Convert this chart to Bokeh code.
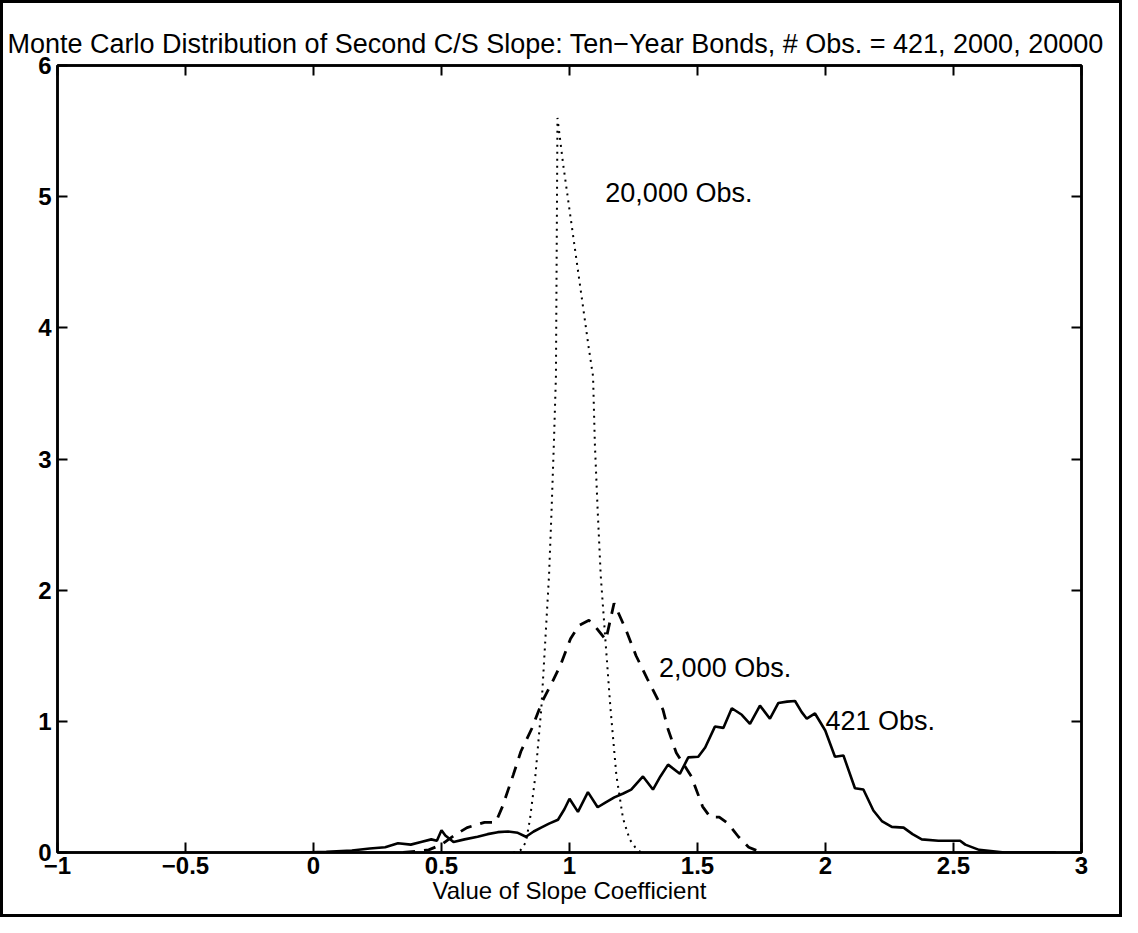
from bokeh.plotting import figure
from bokeh.models import Range1d, LinearAxis, FixedTicker, Label
from bokeh.embed import file_html
from bokeh.resources import INLINE

# ---- data ----
solid_x = [-0.05, 0.05, 0.15, 0.22, 0.28, 0.33, 0.38, 0.42, 0.46, 0.482, 0.50, 0.515, 0.547, 0.59,
           0.641, 0.68, 0.72, 0.76, 0.798, 0.830, 0.86, 0.889, 0.92, 0.955, 0.98, 1.0, 1.033, 1.072,
           1.11, 1.14, 1.175, 1.21, 1.241, 1.287, 1.326, 1.355, 1.385, 1.431, 1.464, 1.503, 1.53,
           1.568, 1.601, 1.634, 1.673, 1.705, 1.744, 1.783, 1.816, 1.85, 1.881, 1.907, 1.927, 1.959,
           1.999, 2.037, 2.07, 2.115, 2.148, 2.187, 2.22, 2.259, 2.305, 2.34, 2.376, 2.441, 2.526,
           2.546, 2.6, 2.7, 2.9]
solid_y = [0, 0.005, 0.015, 0.03, 0.04, 0.07, 0.06, 0.08, 0.1, 0.09, 0.17, 0.13, 0.08, 0.1,
           0.12, 0.14, 0.155, 0.16, 0.15, 0.12, 0.16, 0.19, 0.22, 0.25, 0.33, 0.41, 0.31, 0.46,
           0.345, 0.38, 0.42, 0.45, 0.48, 0.58, 0.48, 0.58, 0.67, 0.60, 0.725, 0.73, 0.80,
           0.96, 0.95, 1.10, 1.05, 0.98, 1.12, 1.02, 1.14, 1.15, 1.155, 1.07, 1.02, 1.06,
           0.93, 0.73, 0.74, 0.49, 0.48, 0.32, 0.24, 0.195, 0.19, 0.14, 0.10, 0.09, 0.09,
           0.06, 0.02, 0.0, 0.0]

dashed_x = [0.35, 0.45, 0.5, 0.55, 0.6, 0.668, 0.712, 0.738, 0.78, 0.81, 0.854, 0.893, 0.933, 0.965,
            1.004, 1.037, 1.076, 1.110, 1.142, 1.174, 1.22, 1.26, 1.305, 1.365, 1.385, 1.417, 1.476,
            1.52, 1.55, 1.585, 1.62, 1.66, 1.70, 1.75]
dashed_y = [0.0, 0.02, 0.06, 0.13, 0.19, 0.23, 0.23, 0.35, 0.59, 0.77, 0.95, 1.15, 1.30, 1.43,
            1.63, 1.73, 1.77, 1.70, 1.62, 1.90, 1.70, 1.50, 1.32, 1.09, 0.94, 0.76, 0.58,
            0.35, 0.27, 0.27, 0.22, 0.12, 0.04, 0.0]

dotted_x = [0.78, 0.81, 0.83, 0.846, 0.867, 0.890, 0.905, 0.920, 0.930, 0.939, 0.947, 0.950, 0.953,
            0.975, 1.0, 1.025, 1.05, 1.075, 1.092, 1.099, 1.110, 1.122, 1.141, 1.160, 1.183, 1.209,
            1.235, 1.26, 1.28]
dotted_y = [0, 0.02, 0.08, 0.26, 0.59, 1.10, 1.60, 2.11, 2.61, 3.12, 3.63, 4.6, 5.6,
            5.25, 4.9, 4.55, 4.2, 3.85, 3.63, 3.12, 2.61, 2.11, 1.60, 1.10, 0.59, 0.26,
            0.1, 0.03, 0]

x_ticks = [-1, -0.5, 0, 0.5, 1, 1.5, 2, 2.5, 3]
x_tick_labels = ["\u22121", "\u22120.5", "0", "0.5", "1", "1.5", "2", "2.5", "3"]
y_ticks = [0, 1, 2, 3, 4, 5, 6]

title_text = "Monte Carlo Distribution of Second C/S Slope: Ten\u2212Year Bonds, # Obs. = 421, 2000, 20000"
x_label_text = "Value of Slope Coefficient"
annotations = [("20,000 Obs.", 1.14, 5.03), ("2,000 Obs.", 1.35, 1.41), ("421 Obs.", 2.0, 1.0)]

FONT = "Liberation Sans"

p = figure(width=1122, height=917, output_backend="svg", toolbar_location=None,
           x_range=Range1d(-1, 3), y_range=Range1d(0, 6),
           min_border_left=54, min_border_right=44, min_border_top=62, min_border_bottom=68)
p.grid.visible = False
p.outline_line_color = "black"
p.outline_line_width = 2.5
p.background_fill_color = "white"
p.border_fill_color = "white"
p.styles = {"border": "3px solid black"}

p.title.text = title_text
p.title.align = "left"
p.title.offset = -50
p.title.standoff = 14
p.title.text_font = FONT
p.title.text_font_style = "normal"
p.title.text_font_size = "27px"
p.title.text_color = "black"

for ax in (p.xaxis[0], p.yaxis[0]):
    ax.axis_line_width = 2.5
    ax.major_tick_in = 10
    ax.major_tick_out = 0
    ax.minor_tick_line_color = None
    ax.major_tick_line_width = 2
    ax.major_label_text_font = FONT
    ax.major_label_text_font_style = "bold"
    ax.major_label_text_font_size = "24px"
    ax.major_label_text_color = "black"

p.xaxis[0].ticker = FixedTicker(ticks=x_ticks)
p.xaxis[0].major_label_overrides = {t: l for t, l in zip(x_ticks, x_tick_labels)}
p.xaxis[0].major_label_standoff = 4
p.xaxis[0].axis_label = x_label_text
p.xaxis[0].axis_label_text_font = FONT
p.xaxis[0].axis_label_text_font_style = "normal"
p.xaxis[0].axis_label_text_font_size = "24px"
p.xaxis[0].axis_label_text_color = "black"
p.xaxis[0].axis_label_standoff = 0
p.yaxis[0].ticker = FixedTicker(ticks=y_ticks)
p.yaxis[0].major_label_standoff = 6

top = LinearAxis(ticker=FixedTicker(ticks=x_ticks))
right = LinearAxis(ticker=FixedTicker(ticks=y_ticks))
for ax in (top, right):
    ax.axis_line_width = 2.5
    ax.major_tick_in = 10
    ax.major_tick_out = 0
    ax.major_tick_line_width = 2
    ax.minor_tick_line_color = None
    ax.major_label_text_font_size = "1px"
    ax.major_label_text_alpha = 0
    ax.major_label_standoff = 0
p.add_layout(top, "above")
p.add_layout(right, "right")

p.line(solid_x, solid_y, line_color="black", line_width=2.6)
p.line(dashed_x, dashed_y, line_color="black", line_width=2.8, line_dash="12 9")
p.line(dotted_x, dotted_y, line_color="black", line_width=2.0, line_dash="2 5")

for txt, xx, yy in annotations:
    p.add_layout(Label(x=xx, y=yy, text=txt, text_font=FONT, text_font_size="27px",
                       text_baseline="middle", text_align="left", text_color="black"))

open("out.html", "w").write(file_html(p, INLINE))
